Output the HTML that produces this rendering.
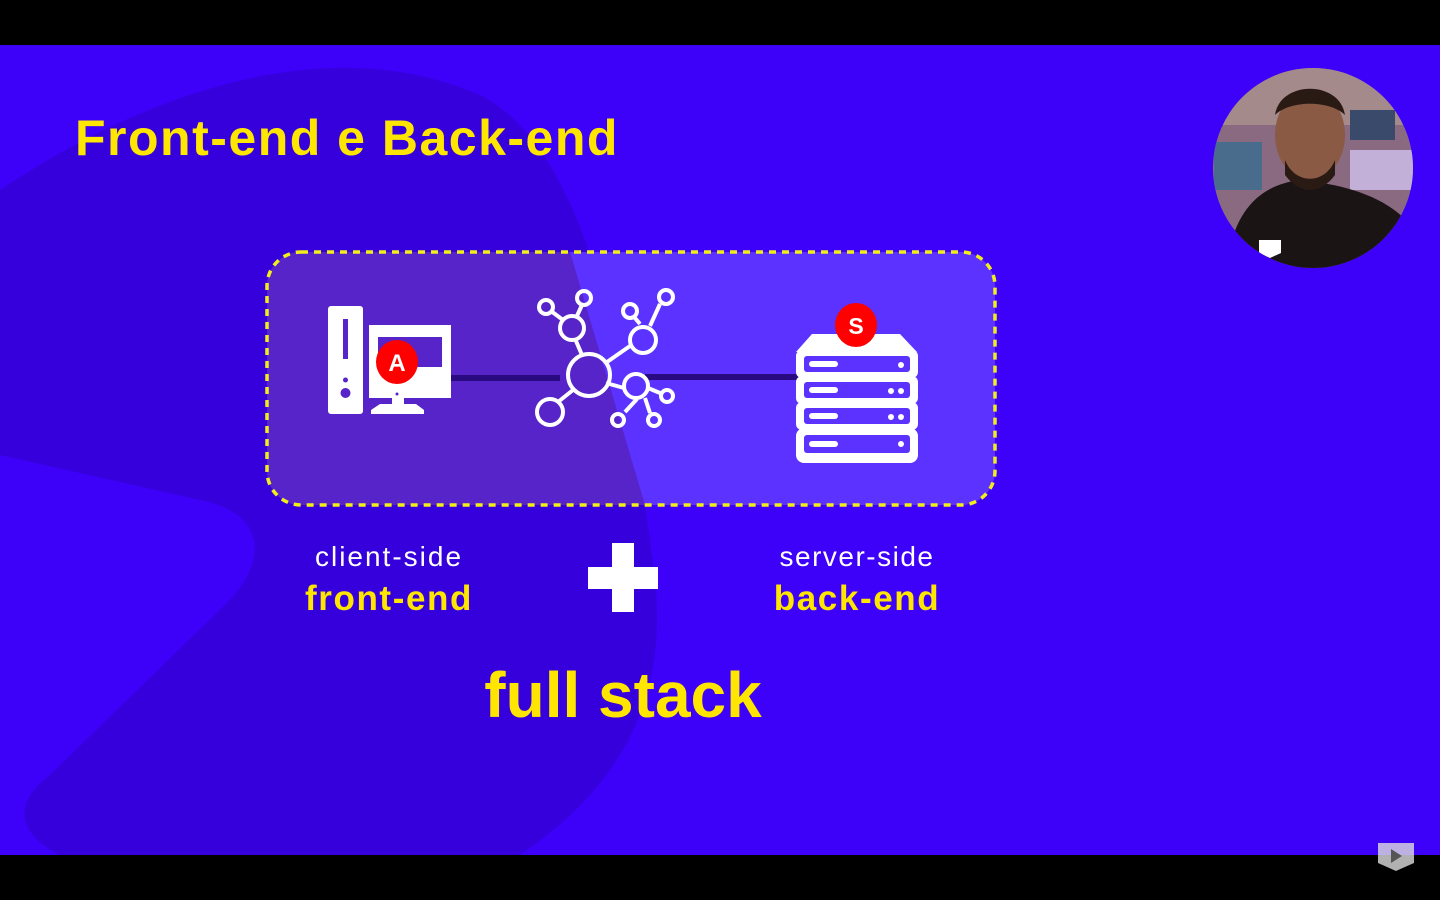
<!DOCTYPE html>
<html><head><meta charset="utf-8"><style>
html,body{margin:0;padding:0;background:#000;}
svg{display:block}
text{font-family:"Liberation Sans",sans-serif}
</style></head><body>
<svg width="1440" height="900" viewBox="0 0 1440 900" xmlns="http://www.w3.org/2000/svg">
<rect x="0" y="0" width="1440" height="900" fill="#000"/>
<rect x="0" y="45" width="1440" height="810" fill="#3d00f8"/>
<path d="M0,190 C150,90 330,30 480,95 C590,150 630,380 655,580 C670,720 600,800 520,855 L60,855 C20,835 10,805 50,775 L230,600 C275,550 255,510 200,500 L0,455 Z" fill="#3600dc"/>
<clipPath id="bx"><rect x="267" y="252" width="728" height="253" rx="34"/></clipPath>
<g clip-path="url(#bx)">
<rect x="267" y="252" width="728" height="253" fill="#5b32ff"/>
<path d="M267,252 L570,252 L645,505 L267,505 Z" fill="#5624c8"/>
</g>
<rect x="267" y="252" width="728" height="253" rx="34" fill="none" stroke="#f2ee1a" stroke-width="3.5" stroke-dasharray="7,6"/>
<line x1="450" y1="378" x2="560" y2="378" stroke="#2a0a80" stroke-width="6"/>
<line x1="645" y1="377" x2="800" y2="377" stroke="#2a0a80" stroke-width="6"/>
<!-- computer -->
<rect x="328" y="306" width="35" height="108" rx="3" fill="#fff"/>
<rect x="343" y="319" width="5" height="40" fill="#5624c8"/>
<circle cx="345.5" cy="380" r="2.5" fill="#5624c8"/>
<circle cx="345.5" cy="393" r="5" fill="#5624c8"/>
<rect x="369" y="325" width="82" height="73" fill="#fff"/>
<rect x="378" y="337" width="64" height="30" fill="#5624c8"/>
<rect x="392" y="398" width="12" height="6" fill="#fff"/>
<path d="M380,404 L416,404 L424,410 L424,414 L371,414 L371,410 Z" fill="#fff"/>
<circle cx="397" cy="394" r="1.5" fill="#5624c8"/>
<ellipse cx="397" cy="362" rx="21" ry="22" fill="#f00"/>
<text x="397" y="371" font-size="24" font-weight="bold" fill="#fff" text-anchor="middle">A</text>
<!-- network -->
<g stroke="#fff" stroke-width="4" fill="none">
<line x1="563" y1="320" x2="551" y2="311"/><line x1="576" y1="318" x2="582" y2="305"/>
<line x1="576" y1="341" x2="582" y2="355"/><line x1="607" y1="362" x2="630" y2="346"/>
<line x1="640" y1="324" x2="635" y2="318"/><line x1="650" y1="326" x2="660" y2="304"/>
<line x1="573" y1="390" x2="558" y2="402"/><line x1="606" y1="383" x2="624" y2="388"/>
<line x1="637" y1="399" x2="625" y2="412"/><line x1="645" y1="398" x2="650" y2="413"/>
<line x1="648" y1="388" x2="660" y2="393"/>
<circle cx="589" cy="375" r="21"/><circle cx="572" cy="328" r="12"/><circle cx="546" cy="307" r="7"/><circle cx="584" cy="298" r="7"/>
<circle cx="643" cy="340" r="13"/><circle cx="630" cy="311" r="7"/><circle cx="666" cy="297" r="7"/>
<circle cx="550" cy="412" r="13"/><circle cx="636" cy="386" r="12"/><circle cx="618" cy="420" r="6"/><circle cx="654" cy="420" r="6"/><circle cx="667" cy="396" r="6"/>
</g>
<!-- server -->
<path d="M812,334 L900,334 L917,352 L796,352 Z" fill="#fff"/>
<g fill="#fff">
<rect x="796" y="350" width="122" height="28" rx="6"/><rect x="796" y="376" width="122" height="28" rx="6"/>
<rect x="796" y="402" width="122" height="28" rx="6"/><rect x="796" y="428" width="122" height="35" rx="8"/>
</g>
<g fill="#5b32ff">
<rect x="804" y="356" width="106" height="16" rx="3"/><rect x="804" y="382" width="106" height="16" rx="3"/>
<rect x="804" y="408" width="106" height="16" rx="3"/><rect x="804" y="435" width="106" height="18" rx="3"/>
</g>
<g fill="#fff">
<rect x="809" y="361" width="29" height="6" rx="3"/><rect x="809" y="387" width="29" height="6" rx="3"/>
<rect x="809" y="413" width="29" height="6" rx="3"/><rect x="809" y="441" width="29" height="6" rx="3"/>
<circle cx="901" cy="365" r="3"/><circle cx="891" cy="391" r="3"/><circle cx="901" cy="391" r="3"/>
<circle cx="891" cy="417" r="3"/><circle cx="901" cy="417" r="3"/><circle cx="901" cy="444" r="3"/>
</g>
<ellipse cx="856" cy="325" rx="21" ry="22" fill="#f00"/>
<text x="856" y="334" font-size="23" font-weight="bold" fill="#fff" text-anchor="middle">S</text>
<!-- text -->
<text x="75" y="155" font-size="50" font-weight="bold" fill="#ffe600" letter-spacing="1.5">Front-end e Back-end</text>
<text x="389" y="566" font-size="28" fill="#fff" text-anchor="middle" letter-spacing="2">client-side</text>
<text x="389" y="610" font-size="35" font-weight="bold" fill="#ffe600" text-anchor="middle" letter-spacing="1.6">front-end</text>
<text x="857" y="566" font-size="28" fill="#fff" text-anchor="middle" letter-spacing="1.5">server-side</text>
<text x="857" y="610" font-size="35" font-weight="bold" fill="#ffe600" text-anchor="middle" letter-spacing="1.6">back-end</text>
<rect x="612" y="543" width="22" height="69" fill="#fff"/>
<rect x="588" y="567" width="70" height="22" fill="#fff"/>
<text x="623" y="717" font-size="64" font-weight="bold" fill="#ffe600" text-anchor="middle">full stack</text>
<!-- webcam -->
<clipPath id="cam"><circle cx="1313" cy="168" r="100"/></clipPath>
<g clip-path="url(#cam)">
<rect x="1210" y="65" width="210" height="210" fill="#8a6a80"/>
<rect x="1210" y="65" width="210" height="60" fill="#a58a8c"/>
<rect x="1214" y="142" width="48" height="48" fill="#4a6c8c"/>
<rect x="1350" y="110" width="45" height="30" fill="#3a4a6a"/>
<rect x="1350" y="150" width="70" height="40" fill="#c2b0d8"/>
<path d="M1225,280 C1230,210 1260,185 1300,180 C1350,185 1400,200 1420,240 L1420,280 Z" fill="#1a1414"/>
<ellipse cx="1310" cy="135" rx="35" ry="45" fill="#8a5a45"/>
<path d="M1275,115 C1280,80 1340,80 1345,115 C1330,100 1290,100 1275,115 Z" fill="#2a1a14"/>
<path d="M1285,160 C1295,185 1325,185 1335,160 L1335,175 C1320,195 1300,195 1285,175 Z" fill="#2a1a14"/>
<path d="M1259,240 L1281,240 L1281,253 L1270,258 L1259,253 Z" fill="#fff"/>
</g>
<path d="M1378,843 L1414,843 L1414,863 L1396,871 L1378,863 Z" fill="#ddd" opacity="0.8"/>
<path d="M1391,849 L1402,856 L1391,863 Z" fill="#555"/>
</svg>
</body></html>
